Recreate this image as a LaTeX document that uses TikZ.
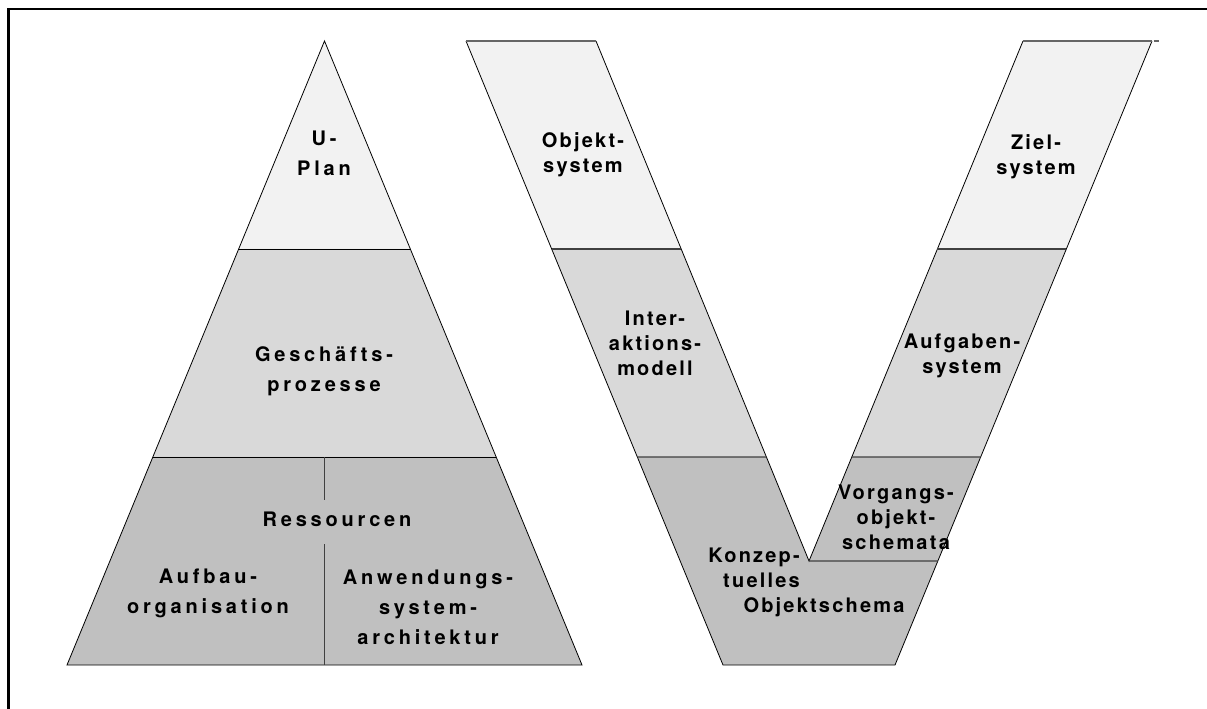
\documentclass[tikz,border=0pt]{standalone}
\usepackage{fontspec}
\newfontfamily\pyrfont{TeX Gyre Heros}[LetterSpace=19]
\newfontfamily\vfont{TeX Gyre Heros}[LetterSpace=11]
\usepackage{tikz}
\usetikzlibrary{positioning, calc}
\tikzset{pyrlabel/.style={inner sep=0pt, align=center, font=\fontsize{20}{30}\pyrfont\bfseries}}
\tikzset{vlabel/.style={inner sep=0pt, align=center, font=\fontsize{20}{25}\vfont\bfseries}}
\tikzset{edge/.style={black, line width=0.8pt}}
\tikzset{sep/.style={black!75, line width=1.2pt}}
\tikzset{vtop/.style={black!60, line width=1.5pt}}
\definecolor{lev1}{HTML}{F2F2F2}
\definecolor{lev2}{HTML}{D9D9D9}
\definecolor{lev3}{HTML}{C0C0C0}

\begin{document}
\begin{tikzpicture}[x=1pt, y=-1pt]
      \useasboundingbox (0,0) rectangle (1207,709);
      \draw[line width=2.5pt] (8.7,709) -- (8.7,9.2) -- (1207,9.2);

      % pyramid
      \coordinate (pt) at (324.5,41);
      \coordinate (pl) at (67,665);
      \coordinate (pr) at (582,665);
      \fill[lev1] (pt) -- ($(pt)!1/3!(pr)$) -- ($(pt)!1/3!(pl)$) -- cycle;
      \fill[lev2] ($(pt)!1/3!(pl)$) -- ($(pt)!1/3!(pr)$) -- ($(pt)!2/3!(pr)$) -- ($(pt)!2/3!(pl)$) -- cycle;
      \fill[lev3] ($(pt)!2/3!(pl)$) -- ($(pt)!2/3!(pr)$) -- (pr) -- (pl) -- cycle;
      \draw[edge] (pt) -- (pr) -- (pl) -- cycle;
      \draw[edge] ($(pt)!1/3!(pl)$) -- ($(pt)!1/3!(pr)$);
      \draw[edge] ($(pt)!2/3!(pl)$) -- ($(pt)!2/3!(pr)$);

      \node[pyrlabel] (plan) at (324,153) {U-\\Plan};
      \node[pyrlabel] (gp) at (324,371) {Geschäfts-\\prozesse};
      \node[pyrlabel] (res) at (337,519) {Ressourcen};
      \node[pyrlabel] (auf) at (208,593.5) {Aufbau-\\organisation};
      \node[pyrlabel] (anw) at (428,607) {Anwendungs-\\system-\\architektur};
      \draw[black!75, line width=0.8pt] (pt |- 0,457) -- (pt |- 0,500);
      \draw[black!75, line width=0.8pt] (pt |- 0,544) -- (pt |- pl);

      % V
      \coordinate (la) at (466,41);
      \coordinate (lb) at (596,41);
      \coordinate (ra) at (1023,41);
      \coordinate (rb) at (1152,41);
      \coordinate (vl) at (723,665);
      \coordinate (vr) at (895,665);
      \coordinate (vn) at (809,561);
      \fill[lev1] (la) -- (lb) -- ($(lb)!0.4!(vn)$) -- ($(la)!1/3!(vl)$) -- cycle;
      \fill[lev1] (ra) -- (rb) -- ($(rb)!1/3!(vr)$) -- ($(ra)!0.4!(vn)$) -- cycle;
      \fill[lev2] ($(la)!1/3!(vl)$) -- ($(lb)!0.4!(vn)$) -- ($(lb)!0.8!(vn)$) -- ($(la)!2/3!(vl)$) -- cycle;
      \fill[lev2] ($(ra)!0.4!(vn)$) -- ($(rb)!1/3!(vr)$) -- ($(rb)!2/3!(vr)$) -- ($(ra)!0.8!(vn)$) -- cycle;
      \fill[lev3] ($(la)!2/3!(vl)$) -- ($(lb)!0.8!(vn)$) -- (vn) -- ($(ra)!0.8!(vn)$)
        -- ($(rb)!2/3!(vr)$) -- (vr) -- (vl) -- cycle;
      \draw[edge] (la) -- (vl) -- (vr) -- (rb);
      \draw[edge] (lb) -- (vn) -- (ra);
      \draw[vtop] (la) -- (lb);
      \draw[vtop] (ra) -- (rb);
      \draw[vtop] ($(rb)+(1.5,0)$) -- ($(rb)+(6.5,0)$);
      \draw[sep] ($(la)!1/3!(vl)$) -- ($(lb)!0.4!(vn)$);
      \draw[sep] ($(la)!2/3!(vl)$) -- ($(lb)!0.8!(vn)$);
      \draw[sep] ($(ra)!0.4!(vn)$) -- ($(rb)!1/3!(vr)$);
      \draw[sep] ($(ra)!0.8!(vn)$) -- ($(rb)!2/3!(vr)$);
      \draw[sep] (vn) -- ($(rb)!5/6!(vr)$);

      \node[vlabel] (obj) at (583,155) {Objekt-\\system};
      \node[vlabel] (ziel) at (1036,157) {Ziel-\\system};
      \node[vlabel] (ia) at (655,343.5) {Inter-\\aktions-\\modell};
      \node[vlabel] (ag) at (962,356) {Aufgaben-\\system};
      \node[vlabel] (vos) at (896,517.5) {Vorgangs-\\objekt-\\schemata};
      \node[vlabel, align=right, anchor=east] (kos) at (800,568) {Konzep-\\tuelles};
      \node[vlabel] (kos2) at (824,607) {Objektschema};
\end{tikzpicture}
\end{document}
